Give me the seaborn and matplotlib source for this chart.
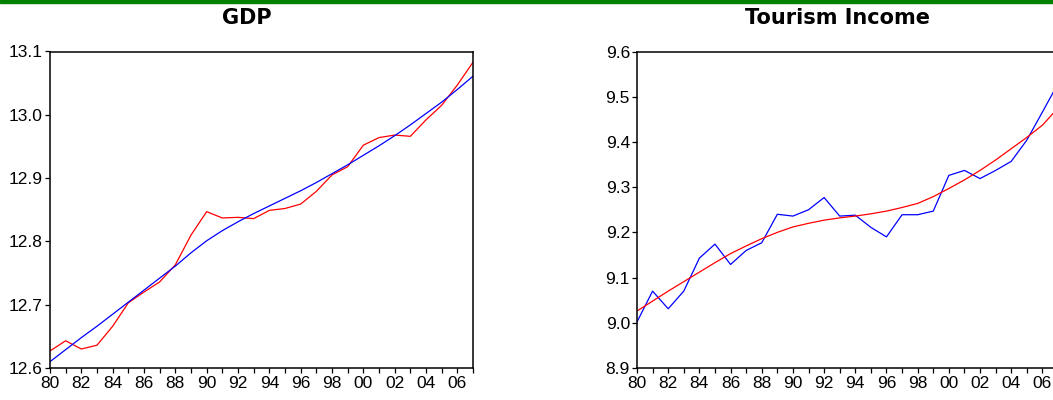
import matplotlib
matplotlib.use('Agg')

import matplotlib.pyplot as plt
import numpy as np
import pandas as pd
import seaborn as sns
from matplotlib.ticker import MultipleLocator, FuncFormatter

# Data
years = list(range(1980, 2008))

gdp_actual = [12.627, 12.643, 12.630, 12.636, 12.666, 12.703, 12.720, 12.736,
              12.763, 12.810, 12.847, 12.837, 12.838, 12.836, 12.849, 12.852,
              12.859, 12.879, 12.905, 12.918, 12.952, 12.964, 12.968, 12.966,
              12.992, 13.015, 13.047, 13.083]
gdp_trend = [12.610, 12.629, 12.648, 12.666, 12.685, 12.704, 12.723, 12.742,
             12.761, 12.782, 12.801, 12.817, 12.831, 12.844, 12.856, 12.868,
             12.880, 12.893, 12.907, 12.921, 12.936, 12.951, 12.967, 12.984,
             13.002, 13.020, 13.040, 13.061]

tour_actual = [9.002, 9.070, 9.031, 9.070, 9.143, 9.174, 9.129, 9.160,
               9.177, 9.240, 9.236, 9.250, 9.277, 9.236, 9.238, 9.211,
               9.190, 9.239, 9.239, 9.247, 9.326, 9.337, 9.319, 9.337,
               9.357, 9.404, 9.466, 9.529]
tour_trend = [9.026, 9.048, 9.070, 9.091, 9.112, 9.133, 9.153, 9.170,
              9.186, 9.200, 9.212, 9.220, 9.227, 9.232, 9.236, 9.241,
              9.247, 9.255, 9.264, 9.279, 9.297, 9.316, 9.337, 9.360,
              9.385, 9.410, 9.437, 9.475]

sns.set_style("ticks")
plt.rcParams['font.family'] = ['Liberation Sans', 'DejaVu Sans']

fig = plt.figure(figsize=(10.53, 4.00), dpi=100)

# green bar at the very top
fig.patches.append(plt.Rectangle((0, 1 - 3 / 400), 1, 3 / 400, transform=fig.transFigure,
                                 color='#008000', zorder=0))

def setup_axis(ax, ylim):
    ax.set_xlim(1980, 2007)
    ax.set_ylim(*ylim)
    ax.xaxis.set_major_locator(MultipleLocator(2))
    ax.xaxis.set_minor_locator(MultipleLocator(1))
    ax.xaxis.set_major_formatter(FuncFormatter(lambda v, p: "%02d" % (int(round(v)) % 100)))
    ax.yaxis.set_major_locator(MultipleLocator(0.1))
    ax.yaxis.set_major_formatter(FuncFormatter(lambda v, p: "%.1f" % v))
    ax.tick_params(axis='both', which='both', direction='out', length=3.6, width=0.9,
                   labelsize=12.5, colors='black')
    ax.tick_params(axis='x', pad=2.0)
    ax.tick_params(axis='y', pad=1.5)
    for s in ax.spines.values():
        s.set_visible(True)
        s.set_color('black')
        s.set_linewidth(1.1)
    ax.set_xlabel('')
    ax.set_ylabel('')
    if ax.get_legend() is not None:
        ax.get_legend().remove()

# GDP panel
ax1 = fig.add_axes([50 / 1053, 1 - 368 / 400, 423 / 1053, 316.5 / 400])
sns.lineplot(x=years, y=gdp_actual, color='red', linewidth=0.9, ax=ax1)
sns.lineplot(x=years, y=gdp_trend, color='blue', linewidth=0.9, ax=ax1)
setup_axis(ax1, (12.6, 13.1))

# Tourism income panel (runs off the right edge, as in the original)
ax2 = fig.add_axes([637 / 1053, 1 - 368 / 400, 421 / 1053, 316.5 / 400])
sns.lineplot(x=years, y=tour_actual, color='blue', linewidth=0.9, ax=ax2)
sns.lineplot(x=years, y=tour_trend, color='red', linewidth=0.9, ax=ax2)
setup_axis(ax2, (8.9, 9.6))

fig.text(246.5 / 1053, 1 - 18 / 400, "GDP", ha='center', va='center', color='black',
         fontsize=15, fontweight='bold', family='DejaVu Sans')
fig.text(837.5 / 1053, 1 - 18 / 400, "Tourism Income", ha='center', va='center',
         color='black', fontsize=15, fontweight='bold', family='DejaVu Sans')

plt.savefig("out.png", dpi=100)
